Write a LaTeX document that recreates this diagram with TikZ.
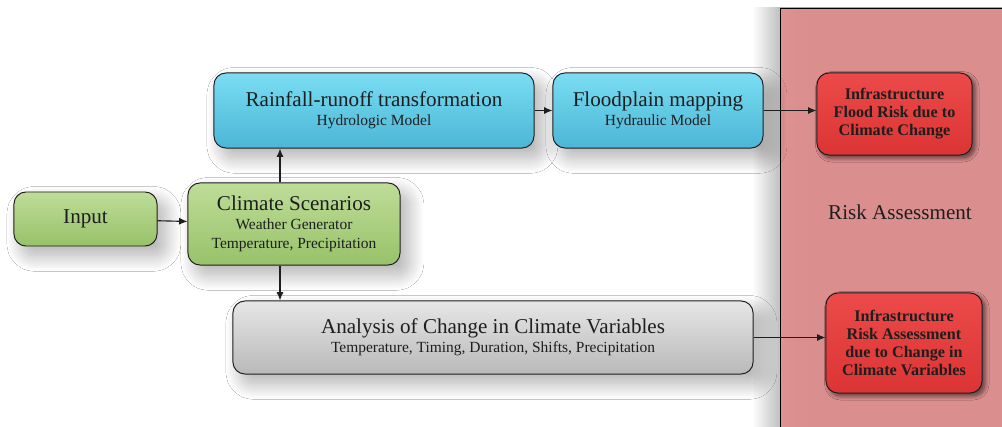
\documentclass[tikz,border=0pt]{standalone}
\usepackage{fontspec}
\setmainfont{Liberation Serif}
\usepackage{tikz}
\usetikzlibrary{arrows.meta,shadows.blur}

\definecolor{greentop}{HTML}{BEDD98}
\definecolor{greenbot}{HTML}{98C26A}
\definecolor{bluetop}{HTML}{7ADDF3}
\definecolor{bluebot}{HTML}{4BB6D6}
\definecolor{greytop}{HTML}{E6E6E6}
\definecolor{greybot}{HTML}{B9B9B9}
\definecolor{redtop}{HTML}{EC4A4A}
\definecolor{redbot}{HTML}{DC3434}
\definecolor{panelleft}{HTML}{F2A6A6}
\definecolor{panelmid}{HTML}{DB8E8E}
\definecolor{inkcol}{HTML}{1E1E1E}

\pgfdeclarehorizontalshading{panelshade}{100bp}{
	color(0bp)=(panelleft); color(30bp)=(panelmid); color(70bp)=(panelmid); color(100bp)=(panelmid!92!panelleft)}

\newcommand{\boxtitle}[1]{{\fontsize{15}{13.5}\selectfont #1}}

\begin{document}
\begin{tikzpicture}[x=0.025cm, y=-0.025cm,
	stagebox/.style={draw=inkcol, line width=0.7pt, rounded corners=0.3cm, align=center,
		text=inkcol, inner sep=2pt, font=\fontsize{11}{13.5}\selectfont,
		blur shadow={shadow xshift=6pt, shadow yshift=-7pt, shadow blur radius=11pt,
			shadow blur steps=30, shadow opacity=32}},
	greenbox/.style={stagebox, top color=greentop, bottom color=greenbot},
	bluebox/.style={stagebox, top color=bluetop, bottom color=bluebot},
	greybox/.style={stagebox, top color=greytop, bottom color=greybot},
	riskbox/.style={stagebox, top color=redtop, bottom color=redbot,
		font=\bfseries\fontsize{11.5}{12.8}\selectfont,
		blur shadow={shadow xshift=2pt, shadow yshift=-2pt, shadow blur radius=3pt,
			shadow blur steps=10, shadow opacity=35}},
	flow/.style={-{Latex[length=6pt,width=5pt]}, line width=0.8pt, draw=inkcol},
	]
	%%%%% START %%%%%
	\useasboundingbox (0,0) rectangle (1002,427);
	\fill[white] (0,0) rectangle (1002,427);

	% risk panel
	\shade[left color=white, right color=black!25] (752,8) rectangle (780,427);
	\draw[line width=0.7pt, shading=panelshade] (780,8) rectangle (1010,440);
	\node[text=inkcol, font=\fontsize{15}{17}\selectfont] (risklbl) at (900,212) {Risk Assessment};

	% model chain
	\node[greenbox, minimum width=3.575cm, minimum height=1.35cm, font=\fontsize{15}{17}\selectfont] (input) at (85.5,219) {Input};
	\node[greenbox, minimum width=5.3cm, minimum height=2.05cm] (climate) at (294,224)
		{\boxtitle{Climate Scenarios}\\Weather Generator\\Temperature, Precipitation};
	\node[bluebox, minimum width=8cm, minimum height=1.875cm] (rainfall) at (374,110.5)
		{\boxtitle{Rainfall-runoff transformation}\\Hydrologic Model};
	\node[bluebox, minimum width=5.25cm, minimum height=1.875cm] (flood) at (658,110.5)
		{\boxtitle{Floodplain mapping}\\Hydraulic Model};
	\node[greybox, minimum width=13cm, minimum height=1.825cm] (analysis) at (493,337.5)
		{\boxtitle{Analysis of Change in Climate Variables}\\Temperature, Timing, Duration, Shifts, Precipitation};

	% risk outputs
	\node[riskbox, minimum width=3.875cm, minimum height=2.05cm] (floodrisk) at (894.5,114)
		{Infrastructure\\Flood Risk due to\\Climate Change};
	\node[riskbox, minimum width=3.9cm, minimum height=2.5cm] (varrisk) at (904,343)
		{Infrastructure\\Risk Assessment\\due to Change in\\Climate Variables};

	% connectors
	\coordinate (tap) at (280,0);
	\draw[flow] (input) -- (climate);
	\draw[flow] (tap |- climate.north) -- (tap |- rainfall.south);
	\draw[flow] (tap |- climate.south) -- (tap |- analysis.north);
	\draw[flow] (rainfall) -- (flood);
	\draw[flow] (flood.east) -- (flood.east -| floodrisk.west);
	\draw[flow] (analysis.east) -- (analysis.east -| varrisk.west);
	%%%%% END %%%%%
\end{tikzpicture}
\end{document}
